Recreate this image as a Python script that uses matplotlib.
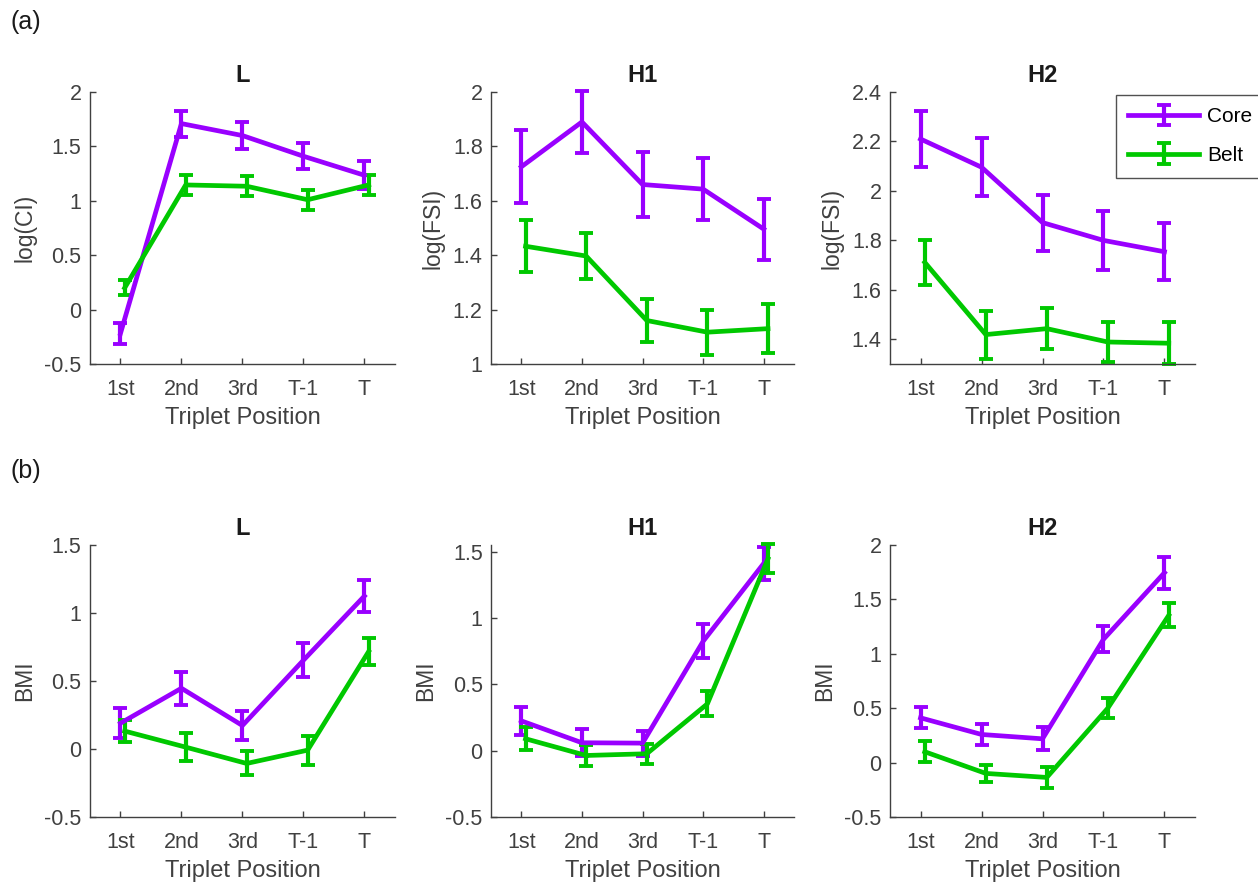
import numpy as np
import matplotlib
matplotlib.use("Agg")
import matplotlib.pyplot as plt

plt.rcParams['font.family'] = ['Liberation Sans', 'DejaVu Sans']

positions = ['1st', '2nd', '3rd', 'T-1', 'T']

# (a) top row
core_L_ci = [-0.22, 1.71, 1.60, 1.41, 1.235]
core_L_ci_err = [0.10, 0.12, 0.12, 0.12, 0.13]
belt_L_ci = [0.20, 1.146, 1.134, 1.01, 1.146]
belt_L_ci_err = [0.07, 0.095, 0.09, 0.09, 0.09]

core_H1_fsi = [1.725, 1.89, 1.66, 1.643, 1.496]
core_H1_fsi_err = [0.134, 0.115, 0.12, 0.114, 0.112]
belt_H1_fsi = [1.433, 1.397, 1.16, 1.117, 1.13]
belt_H1_fsi_err = [0.096, 0.084, 0.08, 0.083, 0.091]

core_H2_fsi = [2.21, 2.096, 1.872, 1.80, 1.754]
core_H2_fsi_err = [0.115, 0.118, 0.113, 0.12, 0.115]
belt_H2_fsi = [1.711, 1.419, 1.443, 1.389, 1.384]
belt_H2_fsi_err = [0.091, 0.097, 0.082, 0.081, 0.085]

# (b) bottom row
core_L_bmi = [0.19, 0.447, 0.173, 0.653, 1.125]
core_L_bmi_err = [0.11, 0.122, 0.11, 0.125, 0.119]
belt_L_bmi = [0.132, 0.014, -0.106, -0.008, 0.717]
belt_L_bmi_err = [0.083, 0.104, 0.088, 0.106, 0.098]

core_H1_bmi = [0.225, 0.06, 0.057, 0.825, 1.412]
core_H1_bmi_err = [0.104, 0.103, 0.095, 0.128, 0.125]
belt_H1_bmi = [0.09, -0.036, -0.023, 0.353, 1.447]
belt_H1_bmi_err = [0.088, 0.082, 0.075, 0.094, 0.11]

core_H2_bmi = [0.412, 0.259, 0.219, 1.134, 1.746]
core_H2_bmi_err = [0.098, 0.095, 0.107, 0.118, 0.148]
belt_H2_bmi = [0.10, -0.099, -0.136, 0.50, 1.354]
belt_H2_bmi_err = [0.096, 0.08, 0.096, 0.092, 0.11]

CORE_COLOR = '#9900FF'
BELT_COLOR = '#00C800'
AX_COLOR = '#404040'

panels = [
    # left, bottom, width, height, title, ylabel, ylim, yticks, core, core_err, belt, belt_err
    (0.0715, 0.5887, 0.2424, 0.3073, 'L', 'log(CI)', (-0.5, 2), np.arange(-0.5, 2.01, 0.5),
     core_L_ci, core_L_ci_err, belt_L_ci, belt_L_ci_err),
    (0.3903, 0.5887, 0.2409, 0.3073, 'H1', 'log(FSI)', (1, 2), np.arange(1, 2.01, 0.2),
     core_H1_fsi, core_H1_fsi_err, belt_H1_fsi, belt_H1_fsi_err),
    (0.7075, 0.5887, 0.2424, 0.3073, 'H2', 'log(FSI)', (1.3, 2.4), np.arange(1.4, 2.41, 0.2),
     core_H2_fsi, core_H2_fsi_err, belt_H2_fsi, belt_H2_fsi_err),
    (0.0715, 0.0768, 0.2424, 0.3073, 'L', 'BMI', (-0.5, 1.5), np.arange(-0.5, 1.51, 0.5),
     core_L_bmi, core_L_bmi_err, belt_L_bmi, belt_L_bmi_err),
    (0.3903, 0.0768, 0.2409, 0.3073, 'H1', 'BMI', (-0.5, 1.55), np.arange(-0.5, 1.51, 0.5),
     core_H1_bmi, core_H1_bmi_err, belt_H1_bmi, belt_H1_bmi_err),
    (0.7075, 0.0768, 0.2424, 0.3073, 'H2', 'BMI', (-0.5, 2), np.arange(-0.5, 2.01, 0.5),
     core_H2_bmi, core_H2_bmi_err, belt_H2_bmi, belt_H2_bmi_err),
]


def fmt(v):
    return '%g' % round(v, 2)


fig = plt.figure(figsize=(12.58, 8.85), dpi=100)

x = np.arange(1, len(positions) + 1)
offset = 0.07

for i, (l, b, w, h, title, ylabel, ylim, yticks, core, core_err, belt, belt_err) in enumerate(panels):
    ax = fig.add_axes([l, b, w, h])
    ekw = dict(linewidth=3.4, elinewidth=3.0, capsize=4.8, capthick=2.8)
    hc = ax.errorbar(x, core, yerr=core_err, color=CORE_COLOR, label='Core', **ekw)
    hb = ax.errorbar(x + offset, belt, yerr=belt_err, color=BELT_COLOR, label='Belt', **ekw)
    for hh in (hc, hb):
        for art in hh[1] + hh[2]:
            art.set_clip_on(False)
    ax.set_xlim(0.5, 5.5)
    ax.set_ylim(*ylim)
    ax.set_xticks(x)
    ax.set_xticklabels(positions)
    ax.set_yticks(yticks)
    ax.set_yticklabels([fmt(v) for v in yticks])
    ax.spines['top'].set_visible(False)
    ax.spines['right'].set_visible(False)
    for s in ('left', 'bottom'):
        ax.spines[s].set_color(AX_COLOR)
        ax.spines[s].set_linewidth(1.0)
    ax.tick_params(direction='in', length=4, width=1, colors=AX_COLOR,
                   labelsize=15.5)
    ax.tick_params(axis='x', pad=11)
    ax.tick_params(axis='y', pad=6)
    ax.set_xlabel('Triplet Position', fontsize=17, color=AX_COLOR, labelpad=5)
    ax.set_ylabel(ylabel, fontsize=16.5, color=AX_COLOR, labelpad=6)
    ax.set_title(title, fontsize=17, fontweight='bold', color='#1a1a1a', pad=7)
    if i == 2:
        leg = ax.legend(loc='upper left', bbox_to_anchor=(0.74, 0.99), fontsize=15,
                        frameon=True, fancybox=False, edgecolor='#262626',
                        handlelength=3.4, handletextpad=0.4, borderpad=0.6,
                        labelspacing=0.95, borderaxespad=0)
        leg.get_frame().set_linewidth(1.0)

fig.text(0.008, 0.975, '(a)', fontsize=18, color='#1a1a1a', va='center')
fig.text(0.008, 0.468, '(b)', fontsize=18, color='#1a1a1a', va='center')

fig.savefig('out.png', dpi=100)
